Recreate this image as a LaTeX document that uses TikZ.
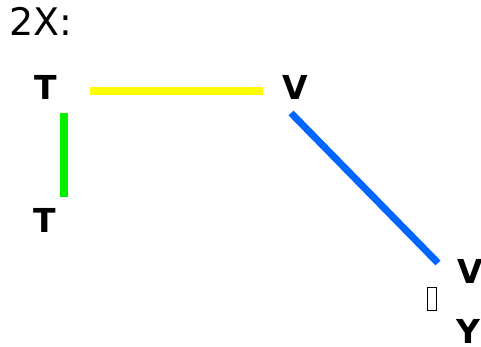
\documentclass[tikz,border=0pt]{standalone}
\usepackage{fontspec}
\setmainfont{DejaVu Sans}
\definecolor{ylw}{RGB}{255,255,0}
\definecolor{grn}{RGB}{0,240,0}
\definecolor{blu}{RGB}{0,102,255}
\begin{document}
\begin{tikzpicture}[x=1pt,y=1pt,
  lbl/.style={inner sep=0pt,anchor=base west,font=\fontsize{33}{33}\selectfont\bfseries},
  bond/.style={line width=8pt,line cap=butt}]
\useasboundingbox (0,0) rectangle (481,347);
\node[inner sep=0pt,anchor=base west,font=\fontsize{38}{38}\selectfont] (title) at (9,311) {2X:};
\node[lbl] (t1) at (34,247) {T};
\node[lbl] (t2) at (33,114) {T};
\node[lbl] (v1) at (282,247) {V};
\node[lbl] (v2) at (457,63) {V};
\node[lbl] (y) at (456,3) {Y};
\node[draw,line width=1.4pt,inner sep=0pt,minimum width=9pt,minimum height=23pt] (box) at (432,48) {};
\coordinate (ya) at (90,256);
\coordinate (yb) at (263,256);
\coordinate (ga) at (64,234);
\coordinate (gb) at (64,150);
\coordinate (ba) at (291,234);
\coordinate (bb) at (438,84);
\draw[bond,ylw] (ya) -- (yb);
\draw[bond,grn] (ga) -- (gb);
\draw[bond,blu,line width=7pt] (ba) -- (bb);
\end{tikzpicture}
\end{document}
